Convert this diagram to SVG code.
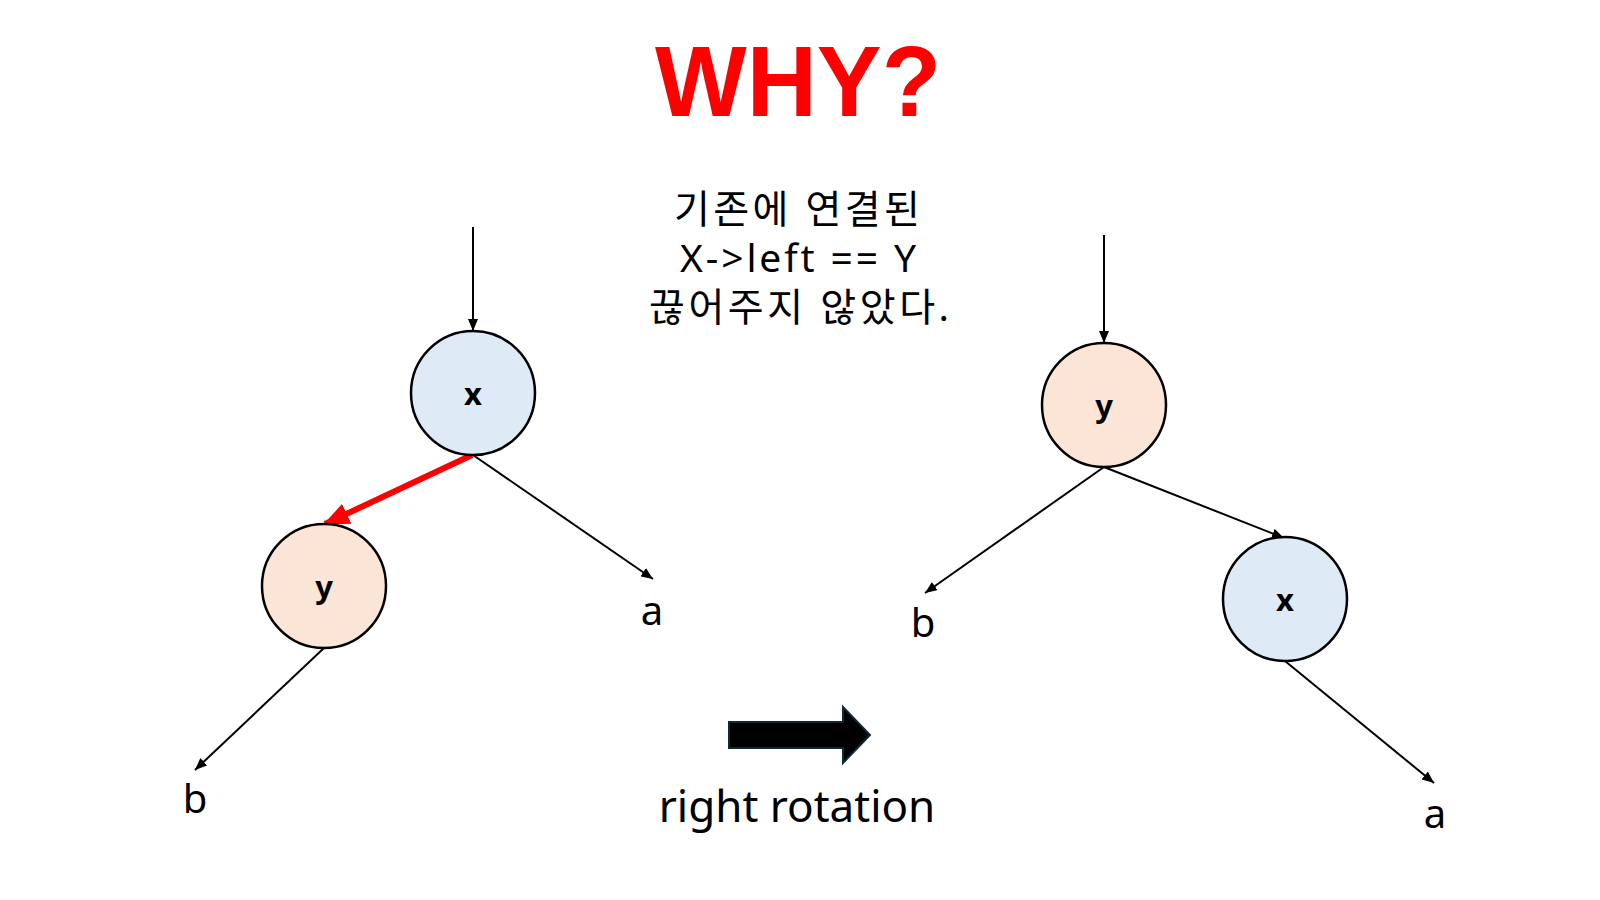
<svg xmlns="http://www.w3.org/2000/svg" width="1600" height="900" viewBox="0 0 1600 900">
<defs>
<marker id="ah" markerUnits="userSpaceOnUse" markerWidth="12" markerHeight="10" refX="12" refY="5" orient="auto">
<path d="M0,0 L12,5 L0,10 z" fill="#000"/>
</marker>
<marker id="ahr" markerUnits="userSpaceOnUse" markerWidth="26" markerHeight="22" refX="24" refY="11" orient="auto">
<path d="M0,0 L26,11 L0,22 z" fill="#ff0000"/>
</marker>
</defs>
<style>
.node-x{fill:#deebf7;stroke:#000;stroke-width:2.5}
.node-y{fill:#fbe5d6;stroke:#000;stroke-width:2.5}
.lbl{font-family:"Noto Sans","Liberation Sans",sans-serif;font-weight:bold;font-size:31px;text-anchor:middle;fill:#000}
.leaf{font-family:"Noto Sans","Liberation Sans",sans-serif;font-size:40px;text-anchor:middle;fill:#000}
.edge{stroke:#000;stroke-width:2;fill:none;marker-end:url(#ah)}
.cap{font-family:"Noto Sans","Noto Sans CJK KR",sans-serif;font-size:39px;text-anchor:middle;fill:#000}
</style>
<rect width="1600" height="900" fill="#fff"/>
<text x="798" y="116" font-family="Liberation Sans, Arial, sans-serif" font-weight="bold" font-size="101" fill="#ff0000" text-anchor="middle" textLength="286" lengthAdjust="spacingAndGlyphs">WHY?</text>
<g id="caption">
<text class="cap" x="797" y="223" textLength="246" lengthAdjust="spacing">기존에 연결된</text>
<text class="cap" x="798" y="272" textLength="236" lengthAdjust="spacing">X->left == Y</text>
<text class="cap" x="799" y="321" textLength="300" lengthAdjust="spacing">끊어주지 않았다.</text>
</g>
<g id="connectors">
<line class="edge" x1="473" y1="227" x2="473" y2="331"/>
<line class="edge" x1="473" y1="455" x2="653" y2="579"/>
<line x1="472" y1="455" x2="325" y2="524" stroke="#ff0000" stroke-width="6" marker-end="url(#ahr)"/>
<line class="edge" x1="324" y1="648" x2="195" y2="770"/>
<line class="edge" x1="1104" y1="235" x2="1104" y2="343"/>
<line class="edge" x1="1104" y1="467" x2="925" y2="593"/>
<line class="edge" x1="1104" y1="467" x2="1284" y2="538"/>
<line class="edge" x1="1285" y1="661" x2="1434" y2="783"/>
</g>
<g id="left-x"><circle class="node-x" cx="473" cy="393" r="62"/><text class="lbl" x="473" y="405">x</text></g>
<g id="left-y"><circle class="node-y" cx="324" cy="586" r="62"/><text class="lbl" x="324" y="598">y</text></g>
<g id="left-a"><text class="leaf" x="652" y="625">a</text></g>
<g id="left-b"><text class="leaf" x="195" y="813">b</text></g>
<g id="right-y"><circle class="node-y" cx="1104" cy="405" r="62"/><text class="lbl" x="1104" y="417">y</text></g>
<g id="right-x"><circle class="node-x" cx="1285" cy="599" r="62"/><text class="lbl" x="1285" y="611">x</text></g>
<g id="right-b"><text class="leaf" x="923" y="637">b</text></g>
<g id="right-a"><text class="leaf" x="1435" y="828">a</text></g>
<g id="rotate-arrow">
<polygon points="729,722 843,722 843,707 870,735 843,763 843,748 729,748" fill="#000" stroke="#0e2a35" stroke-width="2"/>
<text x="797" y="822" font-family="Noto Sans, Liberation Sans, sans-serif" font-size="44" text-anchor="middle" fill="#000">right rotation</text>
</g>
</svg>
